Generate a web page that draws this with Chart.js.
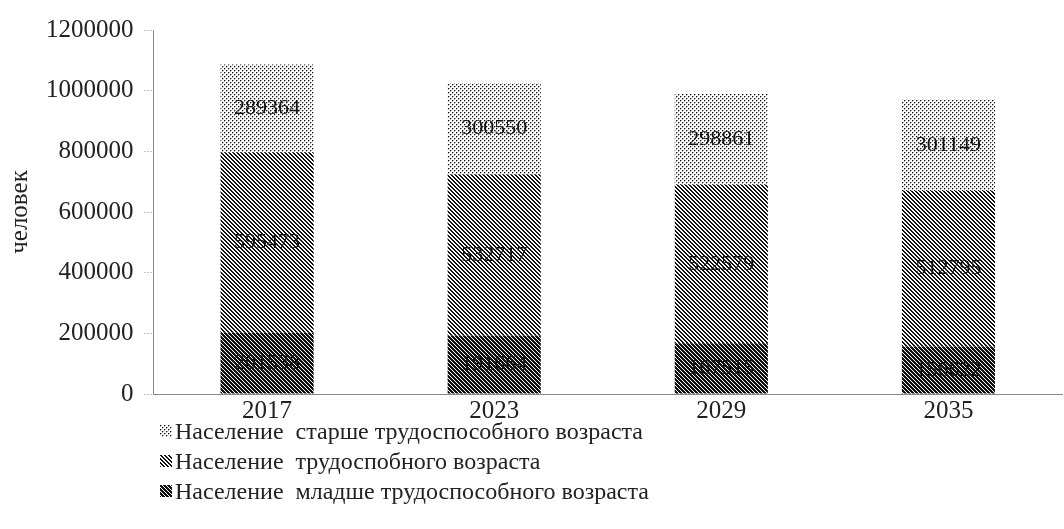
<!DOCTYPE html>
<html>
<head>
<meta charset="utf-8">
<script src="https://cdn.jsdelivr.net/npm/chart.js@4/dist/chart.umd.min.js"></script>
<style>
  html, body { margin: 0; padding: 0; background: #fff; }
  #wrap { position: relative; width: 1064px; height: 529px; }
  #legend { position: absolute; left: 160px; top: 416px; font-family: "Liberation Serif", "Times New Roman", serif; font-size: 24px; color: #222; }
  #legend .item { height: 30px; line-height: 30px; display: flex; align-items: center; white-space: pre; }
  #legend canvas { width: 12px; height: 12px; margin-right: 3px; }
</style>
</head>
<body>
<div id="wrap">
  <canvas id="c" width="1064" height="529"></canvas>
  <div id="legend"></div>
</div>
<script>
const categories = ['2017', '2023', '2029', '2035'];
const youngerValues = [201538, 191664, 167515, 156622];
const workingValues = [595473, 532717, 522579, 512795];
const olderValues = [289364, 300550, 298861, 301149];
const yTicks = [0, 200000, 400000, 600000, 800000, 1000000, 1200000];
const seriesNames = [
  'Население  младше трудоспособного возраста',
  'Население  трудоспобного возраста',
  'Население  старше трудоспособного возраста'
];

function makeTile(kind) {
  const t = document.createElement('canvas');
  t.width = 4; t.height = 4;
  const g = t.getContext('2d');
  g.fillStyle = '#fff';
  g.fillRect(0, 0, 4, 4);
  for (let y = 0; y < 4; y++) {
    for (let x = 0; x < 4; x++) {
      const d = ((x - y) % 4 + 4) % 4;
      let col = null;
      if (kind === 'dots') {
        if ((x === 0 && y === 0) || (x === 2 && y === 2)) col = '#111';
        else if ((x === 1 && y === 0) || (x === 0 && y === 1) || (x === 3 && y === 2) || (x === 2 && y === 3)) col = '#aaa';
      } else if (kind === 'stripes') {
        if (d === 0 || d === 1) col = '#111';
      } else if (kind === 'dense') {
        if (d !== 2) col = '#111';
      }
      if (col) { g.fillStyle = col; g.fillRect(x, y, 1, 1); }
    }
  }
  return t;
}
const ctxMain = document.getElementById('c').getContext('2d');
const tiles = { dense: makeTile('dense'), stripes: makeTile('stripes'), dots: makeTile('dots') };
const patterns = {
  dense: ctxMain.createPattern(tiles.dense, 'repeat'),
  stripes: ctxMain.createPattern(tiles.stripes, 'repeat'),
  dots: ctxMain.createPattern(tiles.dots, 'repeat')
};

const FONT = '"Liberation Serif", "Times New Roman", serif';

const valueLabels = {
  id: 'valueLabels',
  afterDatasetsDraw(chart) {
    const ctx = chart.ctx;
    ctx.save();
    ctx.font = '22px ' + FONT;
    ctx.fillStyle = '#111';
    ctx.textAlign = 'center';
    ctx.textBaseline = 'middle';
    chart.data.datasets.forEach((ds, i) => {
      const meta = chart.getDatasetMeta(i);
      meta.data.forEach((bar, j) => {
        const cy = (bar.y + bar.base) / 2;
        ctx.fillText(String(ds.data[j]), bar.x, cy);
      });
    });
    ctx.restore();
  }
};

const datasets = [
  { label: seriesNames[0], data: youngerValues, backgroundColor: patterns.dense },
  { label: seriesNames[1], data: workingValues, backgroundColor: patterns.stripes },
  { label: seriesNames[2], data: olderValues, backgroundColor: patterns.dots }
];

new Chart(ctxMain, {
  type: 'bar',
  data: { labels: categories, datasets: datasets.map(d => Object.assign({ borderWidth: 0, categoryPercentage: 1, barPercentage: 0.41 }, d)) },
  options: {
    responsive: false,
    animation: false,
    layout: { padding: { top: 30, right: 2, bottom: 101, left: 5 } },
    plugins: { legend: { display: false }, tooltip: { enabled: false } },
    scales: {
      x: {
        stacked: true,
        grid: { display: false, drawTicks: false },
        border: { display: true, color: '#888', dash: [1, 2] },
        ticks: { color: '#222', font: { family: FONT, size: 25 }, padding: 2 }
      },
      y: {
        stacked: true,
        min: 0,
        max: 1200000,
        afterBuildTicks(axis) { axis.ticks = yTicks.map(v => ({ value: v })); },
        grid: { display: true, drawOnChartArea: false, drawTicks: true, tickLength: 9, color: '#888', tickBorderDash: [1, 2] },
        border: { display: true, color: '#888', dash: [1, 2] },
        ticks: { color: '#222', font: { family: FONT, size: 25 }, padding: 11, callback: v => String(v) },
        title: { display: true, text: 'человек', color: '#222', font: { family: FONT, size: 25 }, padding: { top: 0, bottom: 0 } }
      }
    }
  },
  plugins: [valueLabels]
});

const legend = document.getElementById('legend');
[2, 1, 0].forEach(i => {
  const item = document.createElement('div');
  item.className = 'item';
  const ic = document.createElement('canvas');
  ic.width = 12; ic.height = 12;
  const g = ic.getContext('2d');
  g.fillStyle = g.createPattern(tiles[['dense', 'stripes', 'dots'][i]], 'repeat');
  g.fillRect(0, 0, 12, 12);
  item.appendChild(ic);
  const span = document.createElement('span');
  span.textContent = seriesNames[i];
  item.appendChild(span);
  legend.appendChild(item);
});
</script>
</body>
</html>
